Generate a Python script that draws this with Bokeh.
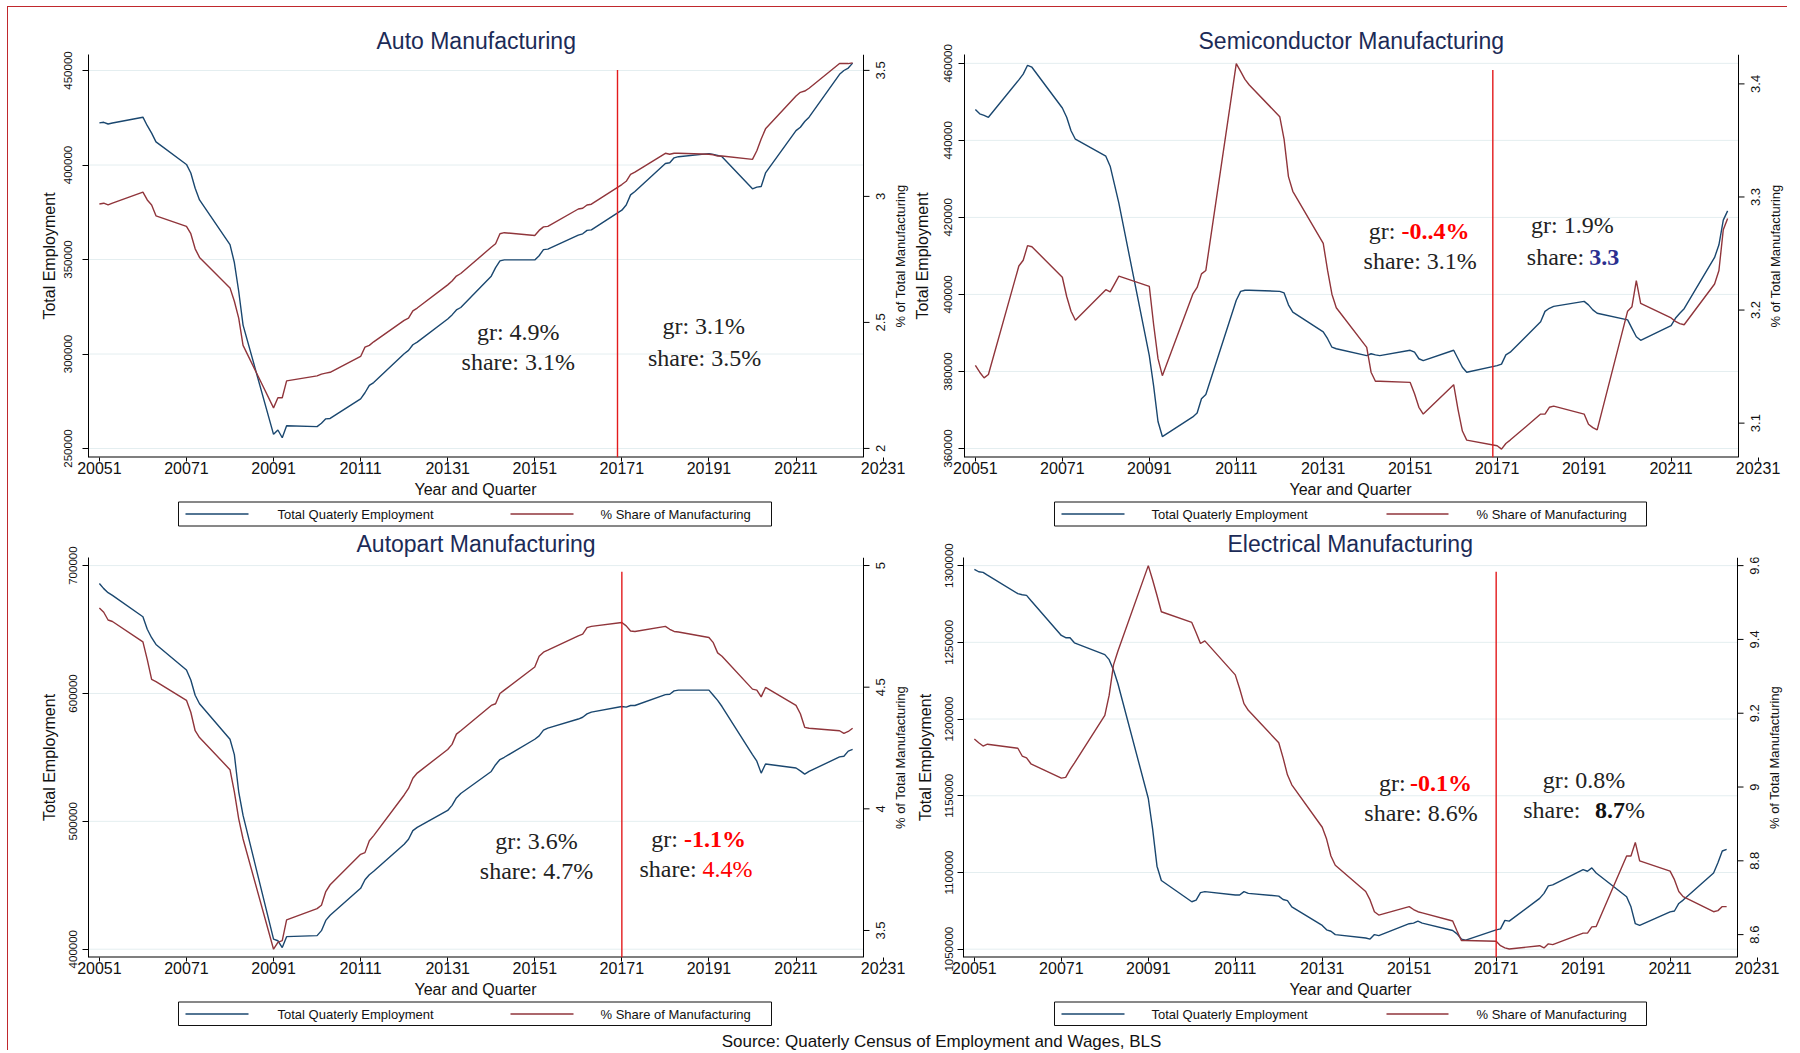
import math
from bokeh.plotting import figure
from bokeh.models import Range1d, FixedTicker, Label
from bokeh.layouts import row, column
from bokeh.core.properties import value
from bokeh.embed import file_html
from bokeh.resources import INLINE

# ---------------- data (Stata-style YYYYQ period codes) ----------------
YEARS = list(range(2005, 2023))
PERIOD = [y * 10 + q for y in YEARS for q in (1, 2, 3, 4)]

X_TICKS = [20051, 20071, 20091, 20111, 20131, 20151, 20171, 20191, 20211, 20231]
X_TICK_LABELS = ["20051", "20071", "20091", "20111", "20131", "20151", "20171", "20191", "20211", "20231"]

auto_emp = [422300, 422600, 421700, 422200, 425300, 420800, 416900, 412250,
            400300, 395800, 387700, 381500, 357900, 348400, 333200, 315300,
            257500, 259800, 255700, 262000, 261600, 263400, 265700, 265900,
            276300, 279500, 283400, 284900, 300100, 301900, 304900, 306300,
            318500, 320700, 323300, 324600, 341200, 345700, 349300, 349800,
            349800, 352000, 355200, 355500, 362900, 363600, 365400, 365700,
            376100, 378800, 384200, 386000, 400800, 401200, 403800, 404400,
            406000, 405600, 405100, 404400, 387400, 388300, 388600, 395800,
            418200, 420000, 423000, 425300, 448000, 450000, 451300, 453900]
auto_share = [2.970, 2.973, 2.966, 2.973, 3.017, 2.986, 2.966, 2.923,
              2.881, 2.852, 2.792, 2.758, 2.637, 2.584, 2.517, 2.409,
              2.161, 2.201, 2.201, 2.268, 2.288, 2.295, 2.299, 2.302,
              2.365, 2.402, 2.409, 2.423, 2.508, 2.517, 2.546, 2.557,
              2.649, 2.664, 2.684, 2.694, 2.798, 2.812, 2.852, 2.856,
              2.845, 2.865, 2.879, 2.881, 2.950, 2.953, 2.966, 2.969,
              3.047, 3.060, 3.087, 3.096, 3.171, 3.167, 3.171, 3.171,
              3.167, 3.165, 3.160, 3.160, 3.147, 3.181, 3.228, 3.268,
              3.398, 3.413, 3.418, 3.429, 3.527, 3.527, 3.527, 3.530]

semi_emp = [448000, 446900, 446500, 446000, 455700, 457200, 459500, 459000,
            448400, 446000, 442500, 440300, 435900, 433300, 428500, 423700,
            384100, 376200, 367000, 363100, 368200, 369200, 372900, 374000,
            398500, 400800, 401100, 401100, 400800, 400400, 397300, 395400,
            390300, 388500, 386300, 385900, 384100, 384600, 384300, 384100,
            385500, 385000, 383300, 382800, 385500, 383300, 381100, 379800,
            381500, 381900, 384300, 385000, 392900, 395600, 396400, 396900,
            398200, 397300, 396000, 395100, 393400, 391200, 389000, 388100,
            391900, 393800, 395100, 396300, 409600, 412900, 419300, 421700]
semi_share = [3.151, 3.145, 3.140, 3.143, 3.239, 3.244, 3.257, 3.256,
              3.229, 3.212, 3.199, 3.191, 3.218, 3.216, 3.223, 3.230,
              3.221, 3.187, 3.157, 3.142, 3.214, 3.220, 3.232, 3.235,
              3.418, 3.411, 3.404, 3.399, 3.371, 3.351, 3.318, 3.305,
              3.259, 3.235, 3.214, 3.202, 3.167, 3.145, 3.137, 3.137,
              3.136, 3.126, 3.114, 3.108, 3.134, 3.112, 3.093, 3.085,
              3.080, 3.077, 3.082, 3.085, 3.108, 3.108, 3.114, 3.115,
              3.108, 3.099, 3.096, 3.094, 3.199, 3.203, 3.226, 3.206,
              3.193, 3.190, 3.188, 3.187, 3.223, 3.235, 3.271, 3.281]

part_emp = [686000, 682000, 678800, 676700, 660000, 650200, 643600, 638300,
            618400, 610500, 598600, 592000, 564200, 552200, 523100, 504600,
            407900, 406600, 401300, 409800, 410600, 414500, 422500, 426500,
            447600, 454300, 458200, 460900, 482100, 486000, 492700, 495300,
            508500, 512500, 518300, 521800, 539000, 544300, 548300, 550100,
            564200, 566800, 571300, 572900, 580000, 581400, 584000, 585400,
            589800, 589300, 590600, 590600, 599100, 599400, 602000, 602600,
            602600, 598600, 594600, 589800, 552200, 547000, 537700, 544800,
            541700, 539500, 536900, 539000, 550400, 550900, 554900, 556200]
part_share = [4.825, 4.808, 4.776, 4.770, 4.686, 4.613, 4.532, 4.523,
              4.446, 4.397, 4.321, 4.293, 4.161, 4.070, 3.959, 3.876,
              3.423, 3.451, 3.458, 3.544, 3.590, 3.604, 3.660, 3.688,
              3.813, 3.820, 3.869, 3.890, 4.057, 4.084, 4.126, 4.147,
              4.244, 4.265, 4.307, 4.321, 4.425, 4.432, 4.474, 4.488,
              4.583, 4.627, 4.644, 4.652, 4.711, 4.718, 4.745, 4.750,
              4.766, 4.752, 4.731, 4.729, 4.750, 4.738, 4.729, 4.727,
              4.704, 4.683, 4.641, 4.627, 4.492, 4.488, 4.460, 4.499,
              4.425, 4.391, 4.335, 4.331, 4.321, 4.310, 4.318, 4.331]

elec_emp = [1297600, 1296000, 1295600, 1293800, 1281700, 1281000, 1280600, 1277300,
            1254500, 1253000, 1253000, 1249700, 1242000, 1238700, 1232000, 1223200,
            1148200, 1128300, 1104100, 1094800, 1080900, 1082000, 1086900, 1087500,
            1085300, 1085300, 1087500, 1086400, 1084600, 1082400, 1081600, 1077600,
            1065500, 1062600, 1061700, 1059500, 1057300, 1056600, 1059500, 1058800,
            1066600, 1067000, 1068300, 1067000, 1062200, 1060000, 1056600, 1055900,
            1062600, 1063200, 1068800, 1068300, 1083100, 1086400, 1091300, 1091900,
            1101900, 1100800, 1103000, 1099700, 1084200, 1077600, 1066600, 1065500,
            1074300, 1074900, 1079800, 1082000, 1099700, 1106300, 1114000, 1115100]
elec_share = [9.130, 9.120, 9.111, 9.116, 9.105, 9.084, 9.079, 9.063,
              9.024, 9.026, 9.047, 9.065, 9.194, 9.249, 9.331, 9.368,
              9.600, 9.561, 9.519, 9.475, 9.446, 9.418, 9.389, 9.396,
              9.304, 9.267, 9.226, 9.208, 9.120, 9.079, 9.033, 9.006,
              8.891, 8.859, 8.813, 8.788, 8.717, 8.694, 8.662, 8.653,
              8.676, 8.668, 8.662, 8.659, 8.637, 8.610, 8.584, 8.584,
              8.582, 8.570, 8.564, 8.561, 8.570, 8.564, 8.575, 8.573,
              8.604, 8.604, 8.621, 8.622, 8.813, 8.813, 8.850, 8.800,
              8.772, 8.749, 8.717, 8.703, 8.662, 8.665, 8.676, 8.676]

# axis ticks / labels
auto_lticks = [250000, 300000, 350000, 400000, 450000]
auto_llabels = ["250000", "300000", "350000", "400000", "450000"]
auto_rticks = [2, 2.5, 3, 3.5]
auto_rlabels = ["2", "2.5", "3", "3.5"]
semi_lticks = [360000, 380000, 400000, 420000, 440000, 460000]
semi_llabels = ["360000", "380000", "400000", "420000", "440000", "460000"]
semi_rticks = [3.1, 3.2, 3.3, 3.4]
semi_rlabels = ["3.1", "3.2", "3.3", "3.4"]
part_lticks = [400000, 500000, 600000, 700000]
part_llabels = ["400000", "500000", "600000", "700000"]
part_rticks = [3.5, 4, 4.5, 5]
part_rlabels = ["3.5", "4", "4.5", "5"]
elec_lticks = [1050000, 1100000, 1150000, 1200000, 1250000, 1300000]
elec_llabels = ["1050000", "1100000", "1150000", "1200000", "1250000", "1300000"]
elec_rticks = [8.6, 8.8, 9, 9.2, 9.4, 9.6]
elec_rlabels = ["8.6", "8.8", "9", "9.2", "9.4", "9.6"]

# annotations: (x, y, text, align, colour, bold)
auto_notes = [(20147.2, 311500, "gr: 4.9%", "center", "#222222", False),
              (20147.2, 295900, "share: 3.1%", "center", "#222222", False),
              (20189.8, 314700, "gr: 3.1%", "center", "#222222", False),
              (20190.0, 297900, "share: 3.5%", "center", "#222222", False)]
semi_notes = [(20147.6, 416600, "gr:", "right", "#222222", False),
              (20149.0, 416600, "-0..4%", "left", "#ff0000", True),
              (20153.3, 408700, "share: 3.1%", "center", "#222222", False),
              (20188.3, 418000, "gr: 1.9%", "center", "#222222", False),
              (20191.0, 409600, "share:", "right", "#222222", False),
              (20192.2, 409600, "3.3", "left", "#2b2f8f", True)]
part_notes = [(20151.4, 484900, "gr: 3.6%", "center", "#222222", False),
              (20151.4, 461100, "share: 4.7%", "center", "#222222", False),
              (20183.9, 486200, "gr:", "right", "#222222", False),
              (20185.3, 486200, "-1.1%", "left", "#ff0000", True),
              (20188.2, 462400, "share:", "right", "#222222", False),
              (20189.5, 462400, "4.4%", "left", "#ff0000", False)]
elec_notes = [(20150.2, 1158100, "gr:", "right", "#222222", False),
              (20151.2, 1158100, "-0.1%", "left", "#ff0000", True),
              (20154.4, 1138900, "share:  8.6%", "center", "#222222", False),
              (20191.2, 1160300, "gr: 0.8%", "center", "#222222", False),
              (20190.4, 1140500, "share:", "right", "#222222", False),
              (20193.7, 1140500, "8.7", "left", "#111111", True),
              (20200.6, 1140500, "%", "left", "#222222", False)]

LEGEND_LABELS = ["Total Quaterly Employment", "% Share of Manufacturing"]
SOURCE_TEXT = "Source: Quaterly Census of Employment and Wages, BLS"
RIGHT_TITLE = "% of Total Manufacturing"
LEFT_TITLE = "Total Employment"
X_TITLE = "Year and Quarter"

NAVY = "#1a476f"
MAROON = "#90353b"
VRED = "#e31a1c"
TITLE_C = "#1c2b57"
GRID_C = "#e4eef0"
SANS = "Liberation Sans"
SERIF = "Liberation Serif"
X0, XR = 20048.5, 20226.5     # plot-region x extent (right axis sits at XR)


def make_panel(title, title_offset, emp, share, yl, yr, lticks, llabels, rticks, rlabels,
               vline_x, vline_top, notes, axis_px, fw, fh, mbl, mbt, mbb,
               lstand, lalstand):
    upp = (XR - X0) / axis_px            # x units per pixel
    x_end = X0 + fw * upp                # frame also holds the hand-drawn right axis
    p = figure(title=title, frame_width=fw, frame_height=fh,
               x_range=Range1d(X0, x_end), y_range=Range1d(*yl),
               output_backend="svg", toolbar_location=None,
               min_border_left=mbl, min_border_right=0,
               min_border_top=mbt, min_border_bottom=mbb)
    p.outline_line_color = None
    p.background_fill_color = "white"
    p.border_fill_color = "white"
    p.extra_y_ranges = {"share": Range1d(*yr)}

    p.title.align = "left"
    p.title.offset = title_offset
    p.title.text_font = SANS
    p.title.text_font_size = "23px"
    p.title.text_font_style = "normal"
    p.title.text_color = TITLE_C
    p.title.standoff = 1

    p.grid.visible = False
    n = len(lticks)
    p.segment(x0=[X0] * n, y0=lticks, x1=[XR] * n, y1=lticks,
              line_color=GRID_C, line_width=1)

    xa = p.xaxis[0]
    xa.ticker = FixedTicker(ticks=X_TICKS)
    xa.major_label_overrides = {t: s for t, s in zip(X_TICKS, X_TICK_LABELS)}
    xa.axis_line_color = None

    ya = p.yaxis[0]
    ya.ticker = FixedTicker(ticks=lticks)
    ya.major_label_overrides = {t: s for t, s in zip(lticks, llabels)}
    ya.axis_label = LEFT_TITLE
    ya.major_label_orientation = "vertical"
    ya.axis_line_color = "black"

    for ax in (xa, ya):
        ax.major_tick_out = 6
        ax.major_tick_in = 0
        ax.minor_tick_line_color = None
        ax.major_tick_line_color = "black"
        ax.major_label_text_font = SANS
        ax.major_label_text_color = "#111111"
        ax.axis_label_text_font = SANS
        ax.axis_label_text_font_style = "normal"
        ax.axis_label_text_color = "#111111"
    xa.major_tick_out = 4
    xa.major_label_text_font_size = "16px"
    xa.major_label_standoff = 0
    ya.major_label_text_font_size = "11.5px"
    ya.axis_label_text_font_size = "16px"
    ya.major_label_standoff = lstand
    ya.axis_label_standoff = lalstand

    # x axis line stops at the right axis
    p.segment(x0=[X0], y0=[yl[0]], x1=[XR], y1=[yl[0]], line_color="black", line_width=2)

    # right axis (hand drawn so that its texts read bottom-to-top like the original)
    p.segment(x0=[XR], y0=[yl[0]], x1=[XR], y1=[yl[1]], line_color="black", line_width=1)
    m = len(rticks)
    p.segment(x0=[XR] * m, y0=rticks, x1=[XR + 6 * upp] * m, y1=rticks,
              line_color="black", line_width=1, y_range_name="share")
    p.text(x=[XR + 17 * upp] * m, y=rticks, text=rlabels, angle=math.pi / 2,
           text_align="center", text_baseline="middle", text_font=value(SANS),
           text_font_size="13px", text_color="#111111", y_range_name="share")
    p.text(x=[XR + 36.5 * upp], y=[(yr[0] + yr[1]) / 2], text=[RIGHT_TITLE], angle=math.pi / 2,
           text_align="center", text_baseline="middle", text_font=value(SANS),
           text_font_size="13px", text_color="#111111", y_range_name="share")

    p.line(PERIOD, emp, line_color=NAVY, line_width=1.4)
    p.line(PERIOD, share, line_color=MAROON, line_width=1.4, y_range_name="share")

    p.segment(x0=[vline_x], y0=[yl[0]], x1=[vline_x], y1=[vline_top],
              line_color=VRED, line_width=1.4)

    for (x, y, txt, align, col, bold) in notes:
        p.add_layout(Label(x=x, y=y, text=txt, text_align=align, text_baseline="middle",
                           text_font=SERIF, text_font_size="24px", text_color=col,
                           text_font_style="bold" if bold else "normal"))
    return p


def strip(y_top, y_bottom, xtitles, legends, source=None):
    """A full-width band in page-pixel units holding x titles, legend boxes and the source note."""
    s = figure(width=1778, height=y_bottom - y_top, x_range=Range1d(8, 1786),
               y_range=Range1d(y_bottom, y_top), output_backend="svg",
               toolbar_location=None, min_border=0,
               x_axis_location=None, y_axis_location=None)
    s.grid.visible = False
    s.outline_line_color = None
    s.background_fill_color = "white"
    s.border_fill_color = "white"
    xs = [c[0] for c in xtitles]
    ys = [c[1] for c in xtitles]
    s.text(x=xs, y=ys, text=[X_TITLE] * len(xs), text_font=value(SANS),
           text_font_size="16px", text_baseline="middle", text_align="center",
           text_color="#111111")
    for (bx0, bx1, by0, by1, ym, s1a, s1b, t1, s2a, s2b, t2) in legends:
        s.quad(left=[bx0], right=[bx1], top=[by0], bottom=[by1],
               fill_color="white", line_color="#111111", line_width=1)
        s.segment(x0=[s1a], y0=[ym], x1=[s1b], y1=[ym], line_color=NAVY, line_width=1.4)
        s.segment(x0=[s2a], y0=[ym], x1=[s2b], y1=[ym], line_color=MAROON, line_width=1.4)
        s.text(x=[t1, t2], y=[ym, ym], text=LEGEND_LABELS, text_font=value(SANS),
               text_font_size="13px", text_baseline="middle", text_align="left",
               text_color="#111111")
    if source is not None:
        sx, sy = source
        s.text(x=[sx], y=[sy], text=[SOURCE_TEXT], text_font=value(SANS),
               text_font_size="17px", text_baseline="middle", text_align="center",
               text_color="#111111")
    return s


p1 = make_panel("Auto Manufacturing", 288, auto_emp, auto_share, (245240, 458470), (1.964, 3.563),
                auto_lticks, auto_llabels, auto_rticks, auto_rlabels, 20170, 450300, auto_notes,
                775, 822, 403, 80, 47, 22, 10, 4)
p2 = make_panel("Semiconductor Manufacturing", 234, semi_emp, semi_share, (357660, 462300), (3.0696, 3.426),
                semi_lticks, semi_llabels, semi_rticks, semi_rlabels, 20170, 458300, semi_notes,
                774, 823, 403, 53, 47, 22, 6, 11)
p3 = make_panel("Autopart Manufacturing", 268, part_emp, part_share, (393500, 706340), (3.389, 5.033),
                part_lticks, part_llabels, part_rticks, part_rlabels, 20171, 695200, part_notes,
                775, 822, 400, 80, 29, 22, 5, 9)
p4 = make_panel("Electrical Manufacturing", 264, elec_emp, elec_share, (1044580, 1305290), (8.538, 9.622),
                elec_lticks, elec_llabels, elec_rticks, elec_rlabels, 20171, 1296000, elec_notes,
                774, 823, 400, 53, 29, 22, 4, 9)

# page-pixel placement of the x titles and legend boxes:
# box x0,x1,y0,y1, mid-y, sample1 x0,x1, text1 x, sample2 x0,x1, text2 x
leg_top = [(178, 771, 501.5, 525.5, 513.5, 185, 248, 277, 510, 573, 600),
           (1054, 1646, 501.5, 525.5, 513.5, 1061, 1124, 1151, 1386, 1448, 1476)]
leg_bot = [(178, 771, 1001.5, 1025, 1013.5, 185, 248, 277, 510, 573, 600),
           (1054, 1646, 1001.5, 1025, 1013.5, 1061, 1124, 1151, 1386, 1448, 1476)]

band1 = strip(479, 528, [(475, 489), (1350, 489)], leg_top)
band2 = strip(979, 1050, [(475, 989), (1350, 989)], leg_bot, source=(941, 1041))

layout = column(row(p1, p2), band1, row(p3, p4), band2,
                styles={"border-top": "1px solid #c0282d", "border-left": "1px solid #c0282d",
                        "margin-left": "7px", "margin-top": "6px"})

open("out.html", "w").write(file_html(layout, INLINE))
